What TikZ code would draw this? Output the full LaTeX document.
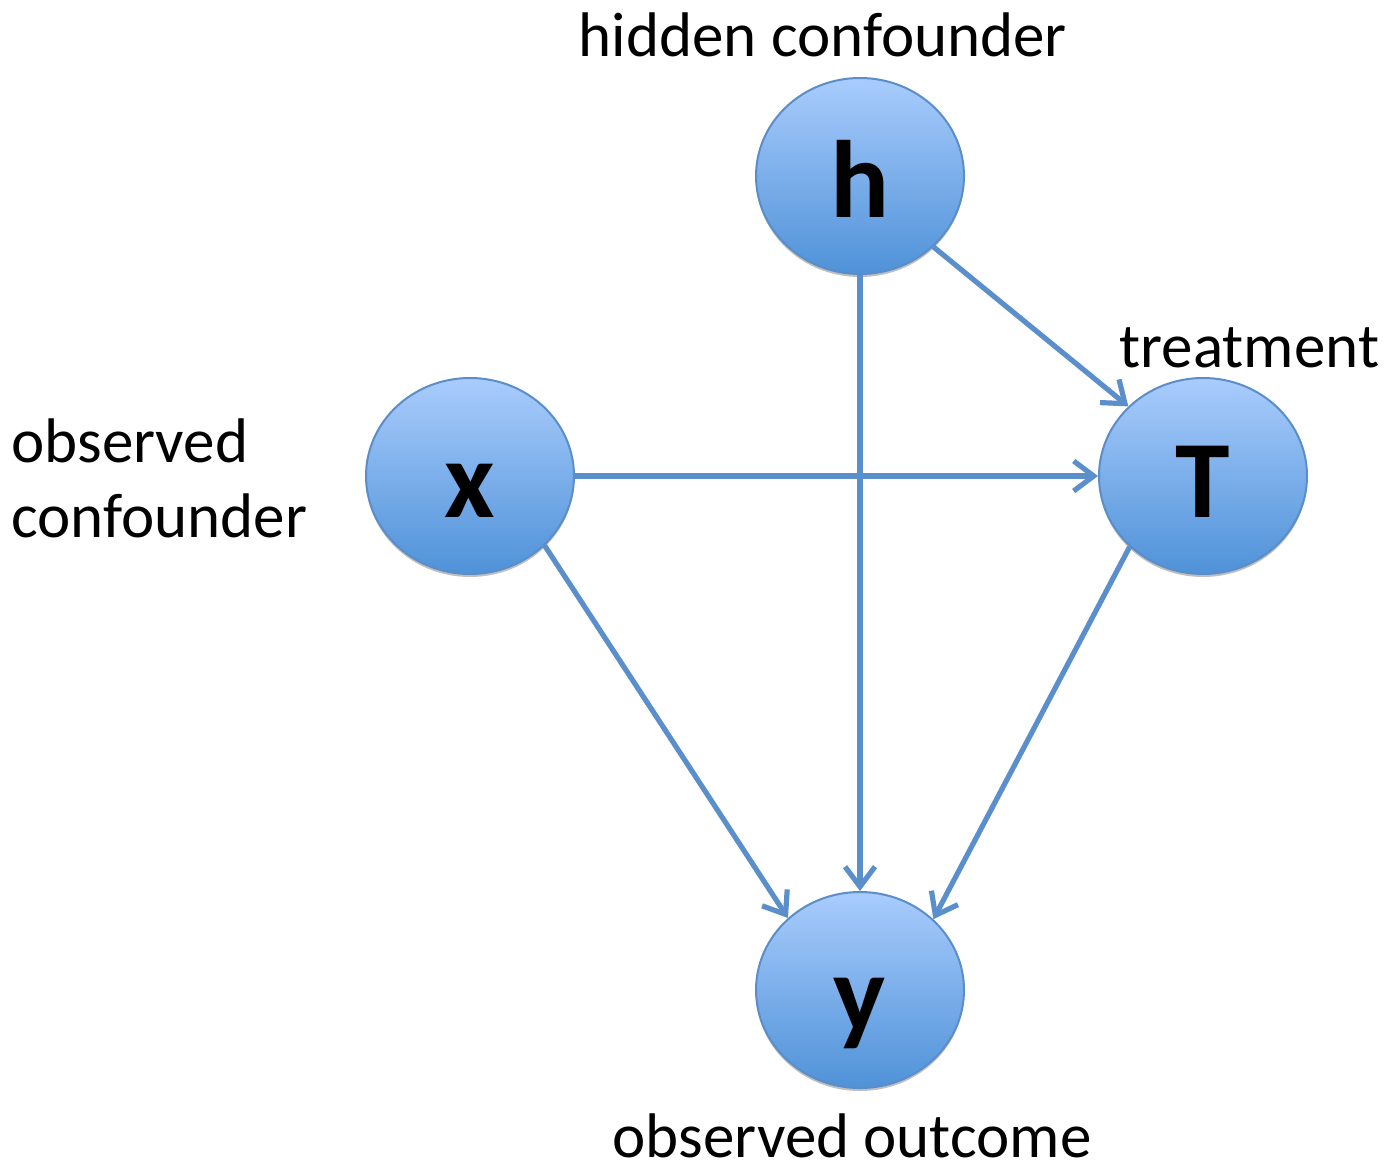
\documentclass[tikz,border=0pt]{standalone}
\usepackage{fontspec}
\setmainfont{Carlito}
\usetikzlibrary{shapes.geometric,arrows.meta,shadows}
\definecolor{topc}{HTML}{A9CCFD}
\definecolor{botc}{HTML}{4F92D8}
\definecolor{edgec}{HTML}{5B8EC8}
\definecolor{arrc}{HTML}{5A8FCB}
\tikzset{
  var/.style={ellipse, draw=edgec, line width=1pt, top color=topc, bottom color=botc,
    minimum width=104pt, minimum height=98pt, inner sep=0pt,
    text height=41pt, text depth=0pt,
    font=\fontsize{55}{60}\selectfont\bfseries,
    drop shadow={opacity=0.25, shadow xshift=0pt, shadow yshift=-1.5pt, fill=black}},
  lbl/.style={inner sep=0pt, font=\fontsize{31.5}{37.5}\selectfont, align=left},
  edge/.style={draw=arrc, line width=2.6pt, -{Straight Barb[length=10pt,width=15pt]}},
}
\begin{document}
\begin{tikzpicture}[x=0.5pt,y=-0.5pt]
\useasboundingbox (0,0) rectangle (1390,1172);
\node[var] (h) at (860,176) {h};
\node[var] (x) at (470,476) {x};
\node[var] (T) at (1203,476) {T};
\node[var] (y) at (860,990) {y};
\node[lbl, anchor=base] (lh) at (823,57) {hidden confounder};
\node[lbl, anchor=base west] (lT) at (1119,367) {treatment};
\node[lbl, anchor=base west] (lx) at (11,537) {observed\\confounder};
\node[lbl, anchor=base] (ly) at (852,1157) {observed outcome};
\draw[edge] (h.-44) -- (T.137);
\draw[edge] (h.south) -- (y.north);
\draw[edge] (x.east) -- (T.west);
\draw[edge] (x.-43) -- (y.135);
\draw[edge] (T.-136) -- (y.44);
\end{tikzpicture}
\end{document}
